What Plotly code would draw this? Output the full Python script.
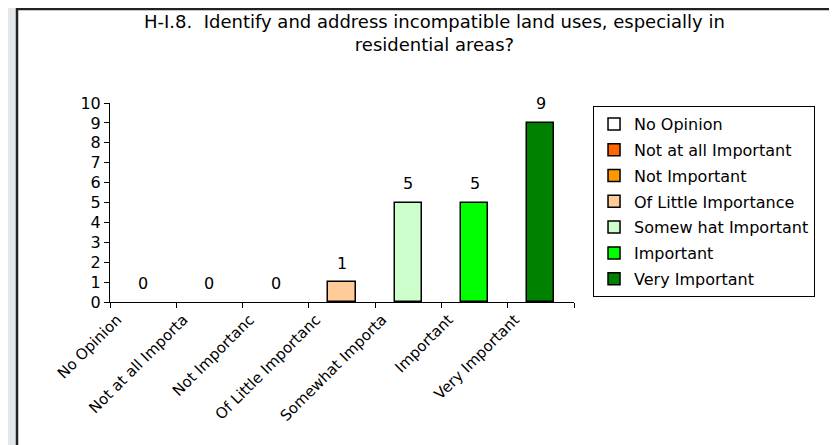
import plotly.graph_objects as go

categories = ["No Opinion", "Not at all Important", "Not Important", "Of Little Importance",
              "Somew hat Important", "Important", "Very Important"]
tick_labels = ["No Opinion", "Not at all Importa", "Not Importanc", "Of Little Importanc",
               "Somewhat Importa", "Important", "Very Important"]
counts = [0, 0, 0, 1, 5, 5, 9]
colors = ["#ffffff", "#ff6600", "#ff9900", "#ffcc99", "#ccffcc", "#00ff00", "#008000"]
title_text = "H-I.8.  Identify and address incompatible land uses, especially in<br>residential areas?"

FONT = "DejaVu Sans, Arial, sans-serif"

fig = go.Figure()
for i, name in enumerate(categories):
    # zero counts draw no bar (only the label), like the original
    fig.add_trace(go.Bar(
        x=[tick_labels[i]], y=[counts[i] if counts[i] else None], name=name, width=0.41,
        marker=dict(color=colors[i], line=dict(color="#000000", width=1.5)),
        legendgroup=name, hoverinfo="skip"))

# value labels above each bar
for lab, v in zip(tick_labels, counts):
    fig.add_annotation(x=lab, y=v, text=str(v), showarrow=False, yshift=19,
                       yanchor="middle", font=dict(family=FONT, size=16, color="#000000"))

# title as an annotation so both lines stay on the page
fig.add_annotation(text=title_text, xref="paper", yref="paper", x=0.7, y=1.47,
                   xanchor="center", yanchor="top", showarrow=False,
                   font=dict(family=FONT, size=18, color="#000000"))

# white chart area with dark frame on the grey page
fig.add_shape(type="rect", xref="paper", yref="paper", x0=-0.2004, x1=1.62, y0=-0.78, y1=1.472,
              fillcolor="#ffffff", line=dict(color="#222222", width=2.5), layer="below")

# page body keeps an 8px margin, so the figure is 8px smaller than the window
fig.update_layout(
    width=829, height=437,
    margin=dict(l=102, r=263, t=95, b=143, autoexpand=False),
    paper_bgcolor="#e4e7ea", plot_bgcolor="rgba(0,0,0,0)",
    barmode="overlay", bargap=0,
    font=dict(family=FONT, size=16, color="#000000"),
    legend=dict(x=1.041, y=0.985, xanchor="left", yanchor="top", bgcolor="#ffffff",
                bordercolor="#000000", borderwidth=1, tracegroupgap=2,
                font=dict(family=FONT, size=16, color="#000000")),
    showlegend=True,
)
fig.update_xaxes(type="category", categoryorder="array", categoryarray=tick_labels,
                 tickangle=-45, showline=True, linecolor="#000000", linewidth=1,
                 ticks="outside", tickson="boundaries", ticklen=5, tickcolor="#000000",
                 ticklabelshift=-26, ticklabelstandoff=2,
                 showgrid=False, automargin=False, tickfont=dict(family=FONT, size=15))
fig.update_yaxes(range=[0, 10], dtick=1, showline=True, linecolor="#000000", linewidth=1,
                 ticks="outside", ticklen=5, tickcolor="#000000", showgrid=False, zeroline=False,
                 automargin=False, tickfont=dict(family=FONT, size=16))

fig.write_html("out.html")
